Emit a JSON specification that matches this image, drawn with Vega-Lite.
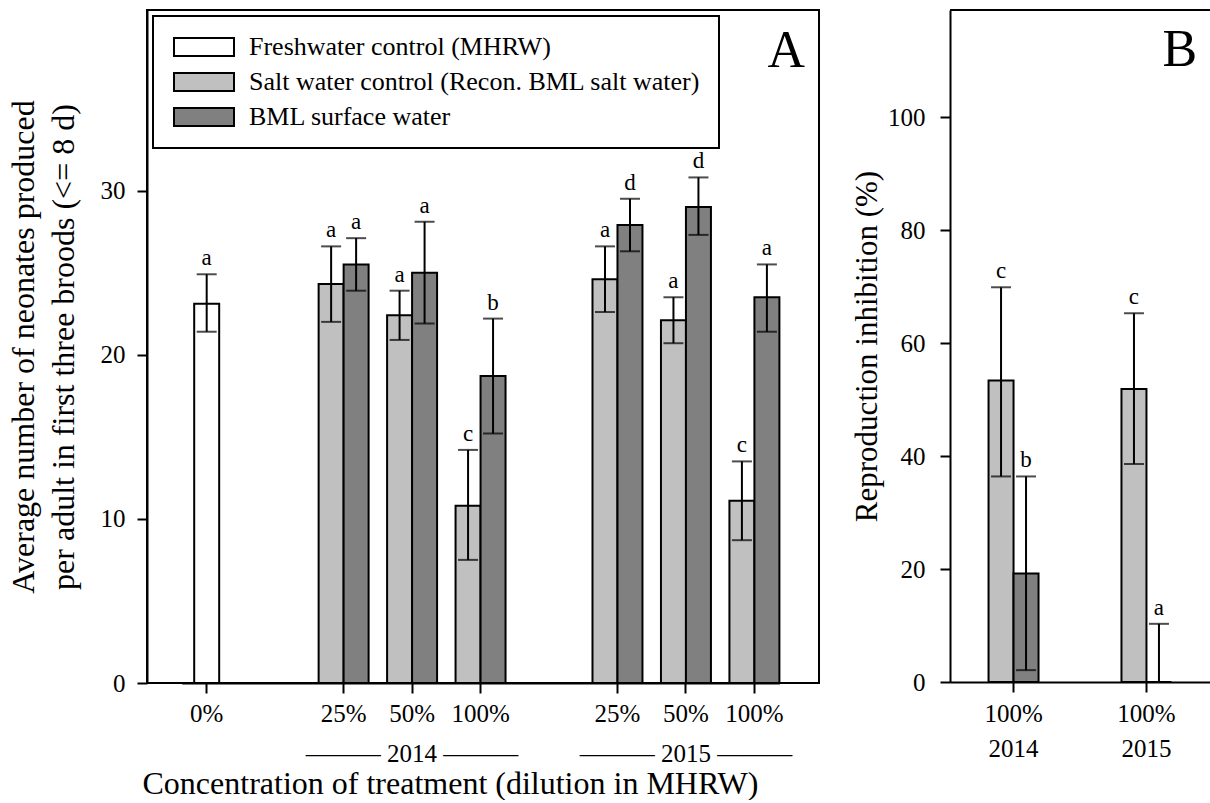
{
  "$schema": "https://vega.github.io/schema/vega-lite/v6.json",
  "background": "white",
  "padding": {"left": 6, "top": 9, "right": 0, "bottom": 0},
  "spacing": 31,
  "datasets": {
    "neonates": [
      {"group": "0%", "series": "Freshwater control (MHRW)", "value": 23.1, "lo": 21.4, "hi": 24.9, "letter": "a"},
      {"group": "25%|2014", "series": "Salt water control (Recon. BML salt water)", "value": 24.3, "lo": 22.0, "hi": 26.6, "letter": "a"},
      {"group": "25%|2014", "series": "BML surface water", "value": 25.5, "lo": 23.9, "hi": 27.1, "letter": "a"},
      {"group": "50%|2014", "series": "Salt water control (Recon. BML salt water)", "value": 22.4, "lo": 20.9, "hi": 23.9, "letter": "a"},
      {"group": "50%|2014", "series": "BML surface water", "value": 25.0, "lo": 21.9, "hi": 28.1, "letter": "a"},
      {"group": "100%|2014", "series": "Salt water control (Recon. BML salt water)", "value": 10.8, "lo": 7.5, "hi": 14.2, "letter": "c"},
      {"group": "100%|2014", "series": "BML surface water", "value": 18.7, "lo": 15.2, "hi": 22.2, "letter": "b"},
      {"group": "25%|2015", "series": "Salt water control (Recon. BML salt water)", "value": 24.6, "lo": 22.6, "hi": 26.6, "letter": "a"},
      {"group": "25%|2015", "series": "BML surface water", "value": 27.9, "lo": 26.3, "hi": 29.5, "letter": "d"},
      {"group": "50%|2015", "series": "Salt water control (Recon. BML salt water)", "value": 22.1, "lo": 20.7, "hi": 23.5, "letter": "a"},
      {"group": "50%|2015", "series": "BML surface water", "value": 29.0, "lo": 27.3, "hi": 30.8, "letter": "d"},
      {"group": "100%|2015", "series": "Salt water control (Recon. BML salt water)", "value": 11.1, "lo": 8.7, "hi": 13.5, "letter": "c"},
      {"group": "100%|2015", "series": "BML surface water", "value": 23.5, "lo": 21.4, "hi": 25.5, "letter": "a"}
    ],
    "inhibition": [
      {"year": "2014", "series": "Salt water control (Recon. BML salt water)", "value": 53.4, "lo": 36.4, "hi": 69.9, "letter": "c"},
      {"year": "2014", "series": "BML surface water", "value": 19.2, "lo": 2.1, "hi": 36.4, "letter": "b"},
      {"year": "2015", "series": "Salt water control (Recon. BML salt water)", "value": 51.9, "lo": 38.6, "hi": 65.3, "letter": "c"},
      {"year": "2015", "series": "BML surface water", "value": 0, "lo": 0, "hi": 10.3, "letter": "a"}
    ]
  },
  "config": {
    "font": "Liberation Serif",
    "view": {"stroke": "black", "strokeWidth": 2},
    "axis": {
      "labelFont": "Liberation Serif", "labelFontSize": 25, "labelColor": "black", "labelLimit": 400,
      "titleFont": "Liberation Serif", "titleFontSize": 32, "titleFontWeight": "normal", "titleColor": "black",
      "tickColor": "black", "tickWidth": 2, "tickSize": 10,
      "domainColor": "black", "domainWidth": 2, "grid": false, "labelAngle": 0
    },
    "text": {"font": "Liberation Serif"}
  },
  "resolve": {"scale": {"color": "independent"}, "legend": {"color": "independent"}},
  "hconcat": [
    {
      "width": 672,
      "height": 673,
      "data": {"name": "neonates"},
      "layer": [
        {
          "encoding": {
            "x": {
              "field": "group", "type": "nominal",
              "title": "Concentration of treatment (dilution in MHRW)",
              "scale": {"domain": ["0%", "gap-a", "25%|2014", "50%|2014", "100%|2014", "gap-b", "25%|2015", "50%|2015", "100%|2015"], "range": [34.7, 632.4], "paddingInner": 0.27, "paddingOuter": 0},
              "axis": {
                "values": ["0%", "25%|2014", "50%|2014", "100%|2014", "25%|2015", "50%|2015", "100%|2015"],
                "labelExpr": "datum.value == '50%|2014' ? ['50%', '———  2014  ———'] : datum.value == '50%|2015' ? ['50%', '———  2015  ———'] : split(datum.value, '|')[0]",
                "labelLineHeight": 40, "labelPadding": 8, "labelLimit": 400,
                "titleAnchor": "start", "titleAlign": "left", "titleX": -5, "titlePadding": 2
              }
            },
            "y": {
              "field": "value", "type": "quantitative",
              "title": ["Average number of neonates produced", "per adult in first three broods (<= 8 d)"],
              "scale": {"domain": [0, 41], "nice": false},
              "axis": {"values": [0, 10, 20, 30], "titleLineHeight": 40, "titlePadding": 20, "labelPadding": 12}
            },
            "color": {
              "field": "series", "type": "nominal",
              "scale": {"domain": ["Freshwater control (MHRW)", "Salt water control (Recon. BML salt water)", "BML surface water"], "range": ["#ffffff", "#c0c0c0", "#808080"]},
              "legend": {
                "orient": "top-left", "offset": 6, "title": null, "direction": "vertical",
                "symbolType": "M-1,-0.9H5V0.9H-1Z", "symbolSize": 400, "symbolStrokeColor": "black", "symbolStrokeWidth": 2, "symbolOpacity": 1,
                "labelFont": "Liberation Serif", "labelFontSize": 26, "labelColor": "black", "labelLimit": 700, "labelOffset": 52,
                "strokeColor": "black", "fillColor": "white", "padding": 18, "rowPadding": 9,
                "encode": {"legend": {"update": {"strokeWidth": {"value": 2}}}}
              }
            }
          },
          "layer": [
            {
              "transform": [{"filter": "datum.series != 'Freshwater control (MHRW)'"}],
              "encoding": {
                "xOffset": {"field": "series", "type": "nominal", "scale": {"domain": ["Salt water control (Recon. BML salt water)", "BML surface water"]}}
              },
              "layer": [
                {"mark": {"type": "bar", "stroke": "black", "strokeWidth": 2}},
                {"mark": {"type": "rule", "strokeWidth": 2},
                 "encoding": {"y": {"field": "lo", "type": "quantitative", "title": ["Average number of neonates produced", "per adult in first three broods (<= 8 d)"], "scale": {"domain": [0, 41], "nice": false}}, "y2": {"field": "hi"}, "color": {"value": "black"}}},
                {"mark": {"type": "tick", "size": 20, "thickness": 2},
                 "encoding": {"y": {"field": "hi", "type": "quantitative", "title": ["Average number of neonates produced", "per adult in first three broods (<= 8 d)"], "scale": {"domain": [0, 41], "nice": false}}, "color": {"value": "black"}}},
                {"mark": {"type": "tick", "size": 20, "thickness": 2},
                 "encoding": {"y": {"field": "lo", "type": "quantitative", "title": ["Average number of neonates produced", "per adult in first three broods (<= 8 d)"], "scale": {"domain": [0, 41], "nice": false}}, "color": {"value": "black"}}},
                {"mark": {"type": "text", "dy": -9, "baseline": "alphabetic", "fontSize": 23, "font": "Liberation Serif"},
                 "encoding": {"y": {"field": "hi", "type": "quantitative", "title": ["Average number of neonates produced", "per adult in first three broods (<= 8 d)"], "scale": {"domain": [0, 41], "nice": false}}, "text": {"field": "letter"}, "color": {"value": "black"}}}
              ]
            },
            {
              "transform": [{"filter": "datum.series == 'Freshwater control (MHRW)'"}],
              "layer": [
                {"mark": {"type": "bar", "stroke": "black", "strokeWidth": 2, "width": {"band": 0.5}}},
                {"mark": {"type": "rule", "strokeWidth": 2},
                 "encoding": {"y": {"field": "lo", "type": "quantitative", "title": ["Average number of neonates produced", "per adult in first three broods (<= 8 d)"], "scale": {"domain": [0, 41], "nice": false}}, "y2": {"field": "hi"}, "color": {"value": "black"}}},
                {"mark": {"type": "tick", "size": 20, "thickness": 2},
                 "encoding": {"y": {"field": "hi", "type": "quantitative", "title": ["Average number of neonates produced", "per adult in first three broods (<= 8 d)"], "scale": {"domain": [0, 41], "nice": false}}, "color": {"value": "black"}}},
                {"mark": {"type": "tick", "size": 20, "thickness": 2},
                 "encoding": {"y": {"field": "lo", "type": "quantitative", "title": ["Average number of neonates produced", "per adult in first three broods (<= 8 d)"], "scale": {"domain": [0, 41], "nice": false}}, "color": {"value": "black"}}},
                {"mark": {"type": "text", "dy": -9, "baseline": "alphabetic", "fontSize": 23, "font": "Liberation Serif"},
                 "encoding": {"y": {"field": "hi", "type": "quantitative", "title": ["Average number of neonates produced", "per adult in first three broods (<= 8 d)"], "scale": {"domain": [0, 41], "nice": false}}, "text": {"field": "letter"}, "color": {"value": "black"}}}
              ]
            }
          ]
        },
        {
          "data": {"values": [{"panel": "A"}]},
          "mark": {"type": "text", "fontSize": 52, "align": "left", "baseline": "alphabetic", "dx": 13, "font": "Liberation Serif"},
          "encoding": {
            "x": {"datum": "100%|2015", "title": "Concentration of treatment (dilution in MHRW)"},
            "y": {"datum": 37.5, "type": "quantitative", "title": ["Average number of neonates produced", "per adult in first three broods (<= 8 d)"], "scale": {"domain": [0, 41], "nice": false}},
            "text": {"field": "panel"},
            "color": {"value": "black"}
          }
        }
      ]
    },
    {
      "width": 260,
      "height": 672,
      "data": {"name": "inhibition"},
      "view": {"stroke": null},
      "layer": [
        {
          "encoding": {
            "x": {
              "field": "year", "type": "nominal", "title": null,
              "scale": {"domain": ["2014", "2015"], "paddingInner": 0.624, "paddingOuter": 0.29},
              "axis": {"labelExpr": "['100%', datum.label]", "labelLineHeight": 35, "labelPadding": 9}
            },
            "xOffset": {"field": "series", "type": "nominal", "scale": {"domain": ["Salt water control (Recon. BML salt water)", "BML surface water"]}},
            "y": {
              "field": "value", "type": "quantitative", "title": "Reproduction inhibition (%)",
              "scale": {"domain": [0, 119], "nice": false},
              "axis": {"values": [0, 20, 40, 60, 80, 100], "titleFontSize": 31, "titlePadding": 4, "labelPadding": 15}
            },
            "color": {
              "field": "series", "type": "nominal",
              "scale": {"domain": ["Freshwater control (MHRW)", "Salt water control (Recon. BML salt water)", "BML surface water"], "range": ["#ffffff", "#c0c0c0", "#808080"]},
              "legend": null
            }
          },
          "layer": [
            {"mark": {"type": "bar", "stroke": "black", "strokeWidth": 2}},
            {"mark": {"type": "rule", "strokeWidth": 2},
             "encoding": {"y": {"field": "lo", "type": "quantitative", "title": "Reproduction inhibition (%)", "scale": {"domain": [0, 119], "nice": false}}, "y2": {"field": "hi"}, "color": {"value": "black"}}},
            {"mark": {"type": "tick", "size": 20, "thickness": 2},
             "encoding": {"y": {"field": "hi", "type": "quantitative", "title": "Reproduction inhibition (%)", "scale": {"domain": [0, 119], "nice": false}}, "color": {"value": "black"}}},
            {"mark": {"type": "tick", "size": 20, "thickness": 2},
             "encoding": {"y": {"field": "lo", "type": "quantitative", "title": "Reproduction inhibition (%)", "scale": {"domain": [0, 119], "nice": false}}, "color": {"value": "black"}}},
            {"mark": {"type": "text", "dy": -9, "baseline": "alphabetic", "fontSize": 23, "font": "Liberation Serif"},
             "encoding": {"y": {"field": "hi", "type": "quantitative", "title": "Reproduction inhibition (%)", "scale": {"domain": [0, 119], "nice": false}}, "text": {"field": "letter"}, "color": {"value": "black"}}}
          ]
        },
        {
          "data": {"values": [{"edge": "top"}]},
          "mark": {"type": "rule", "color": "black", "strokeWidth": 2},
          "encoding": {"y": {"datum": 119, "type": "quantitative", "title": "Reproduction inhibition (%)", "scale": {"domain": [0, 119], "nice": false}}}
        },
        {
          "data": {"values": [{"panel": "B"}]},
          "mark": {"type": "text", "fontSize": 52, "align": "left", "baseline": "alphabetic", "dx": 16, "font": "Liberation Serif"},
          "encoding": {
            "x": {"datum": "2015", "title": null},
            "y": {"datum": 109, "type": "quantitative", "title": "Reproduction inhibition (%)", "scale": {"domain": [0, 119], "nice": false}},
            "text": {"field": "panel"},
            "color": {"value": "black"}
          }
        }
      ]
    }
  ]
}
